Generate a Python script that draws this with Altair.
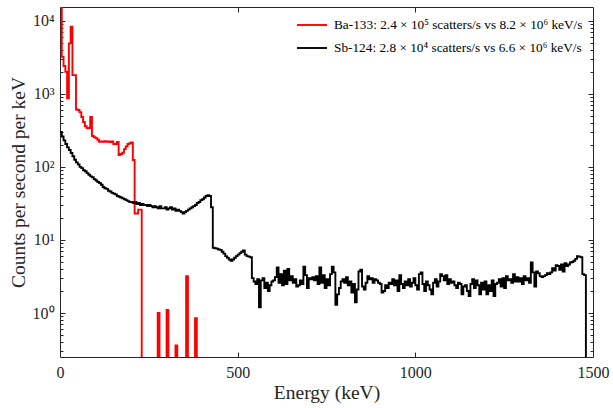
import altair as alt
import pandas as pd

BIN = 5  # keV per histogram bin
FLOOR = 0.01  # stands in for empty bins on the log axis (below the visible range)

ba_label = "Ba-133: 2.4 × 10⁵ scatters/s vs 8.2 × 10⁶ keV/s"
sb_label = "Sb-124: 2.8 × 10⁴ scatters/s vs 6.6 × 10⁶ keV/s"

# Ba-133 counts per second per keV, 5 keV bins starting at 0 keV
ba_rate = [
    20000, 3200, 2400, 2000, 870, 4900, 8300, 1800, 1800, 610,
    600, 560, 480, 410, 360, 340, 340, 480, 265, 255,
    247, 235, 220, 222, 220, 224, 220, 222, 218, 222,
    205, 205, 220, 145, 150, 156, 175, 190, 205, 210,
    215, 124, 23, 23, 26, 26, 0, 0, 0, 0,
    0, 0, 0, 0, 0, 1.0, 0, 0, 0, 0,
    1.1, 0, 0, 0, 0, 0.36, 0, 0, 0, 0,
    0, 3.2, 0, 0, 0, 0, 0.85,
]

# Sb-124 counts per second per keV, 5 keV bins starting at 0 keV
sb_rate = [
    300, 260, 230, 205, 185, 170, 155, 140, 125, 115,
    108, 100, 96, 90, 87, 82, 78, 74, 72, 68,
    65, 62, 60, 57, 53, 51, 50, 47, 46, 44,
    43, 42, 40, 39, 38, 37, 36, 35, 34, 33,
    33, 32, 33, 31, 32, 30, 31, 30, 30, 29,
    30, 29, 28, 29, 28, 27, 29, 27, 27, 28,
    26, 27, 28, 26, 27, 25, 26, 25, 24, 23,
    24, 25, 26, 27, 28, 29, 30, 32, 33, 35,
    36, 38, 40, 41, 40, 28,
    7.8, 7.7, 7.6, 7.4, 7.3, 6.9, 6.5, 6.0, 5.7, 5.4,
    5.2, 5.4, 5.7, 6.0, 6.3, 6.6, 6.9, 7.2, 6.3, 6.0, 5.9, 5.8,
    3.0, 2.7, 2.5, 2.9, 1.2, 2.8, 3.0, 2.2, 2.6, 2.0,
    2.4, 2.7, 2.8, 3.1, 4.2, 2.6, 3.4, 2.4, 3.8, 2.5,
    4.0, 2.8, 3.2, 2.6, 2.9, 2.3, 2.4, 2.8, 2.5, 4.3,
    3.3, 2.2, 3.0, 2.9, 3.1, 2.8, 3.2, 2.5, 4.2, 2.6,
    3.3, 2.2, 2.9, 2.4, 3.4, 4.3, 3.6, 1.3, 1.8, 2.2,
    2.7, 2.9, 2.6, 3.1, 2.4, 2.7, 1.9, 2.5, 1.4, 2.1,
    3.7, 3.9, 2.3, 2.1, 2.6, 3.2, 2.9, 3.0, 2.6, 2.9,
    2.8, 2.6, 2.5, 1.9, 2.0, 2.4, 2.2, 2.6, 2.5, 2.9,
    2.4, 2.8, 2.0, 3.3, 2.5, 2.2, 2.7, 2.4, 2.9, 2.3,
    2.6, 3.0, 2.4, 2.1, 3.4, 3.6, 2.5, 2.0, 2.7, 2.4,
    2.1, 1.8, 2.6, 2.9, 2.3, 2.7, 3.4, 3.2, 2.8, 3.3,
    2.5, 2.9, 2.6, 2.7, 2.4, 2.2, 2.6, 2.5, 1.8, 2.3,
    2.4, 2.0, 1.7, 2.5, 2.9, 2.2, 2.8, 2.4, 1.8, 2.6,
    2.1, 2.7, 1.8, 2.4, 2.0, 2.8, 1.7, 2.5, 2.6, 2.9,
    2.3, 3.0, 2.2, 3.2, 2.8, 2.9, 2.6, 3.4, 2.7, 3.1,
    2.7, 3.0, 2.5, 3.2, 2.8, 3.0, 2.6, 4.9, 3.6, 2.3,
    3.7, 3.5, 3.2, 3.1, 3.2, 3.3, 3.5, 3.4, 3.6, 4.1,
    3.8, 4.5, 4.4, 3.9, 4.6, 3.7, 4.8, 4.4, 4.6, 4.9,
    5.0, 5.2, 5.5, 6.0, 5.9, 5.8, 3.4, 3.3,
]

x_ticks = [0, 500, 1000, 1500]
x_inner_ticks = [500, 1000]
y_major = [1, 10, 100, 1000, 10000]
y_minor = [m * 10 ** e for e in range(-1, 5) for m in range(2, 10)
           if 0.25 <= m * 10 ** e <= 15400]


def step_rows(rates, label):
    rows = [{"energy": i * BIN, "rate": r if r > 0 else FLOOR, "source": label, "i": i}
            for i, r in enumerate(rates)]
    rows.append({"energy": len(rates) * BIN, "rate": FLOOR, "source": label, "i": len(rates)})
    return rows


df_ba = pd.DataFrame(step_rows(ba_rate, ba_label))
df_sb = pd.DataFrame(step_rows(sb_rate, sb_label))

FONT = "Liberation Serif"
AX = "#262626"
LW = 1.9

xs = alt.Scale(domain=[0, 1500], nice=False, zero=False)
ys = alt.Scale(type="log", domain=[0.25, 15400], nice=False)

color = alt.Color(
    "source:N",
    scale=alt.Scale(domain=[ba_label, sb_label], range=["#ff0000", "#000000"]),
    legend=alt.Legend(
        title=None, orient="none", legendX=236, legendY=2,
        symbolType="stroke", symbolSize=900, symbolStrokeWidth=LW,
        labelFont=FONT, labelFontSize=13.3, labelColor="#000000",
        labelLimit=500, labelOffset=6, rowPadding=-8, padding=0,
    ),
)

label_expr = ("datum.value < 5 ? '10⁰' : datum.value < 50 ? '10¹' : "
              "datum.value < 500 ? '10²' : datum.value < 5000 ? '10³' : '10⁴'")

red = alt.Chart(df_ba).mark_line(interpolate="step-after", clip=True, strokeWidth=LW).encode(
    x=alt.X("energy:Q", scale=xs, axis=alt.Axis(
        orient="bottom", values=x_ticks, format="d", title="Energy (keV)", ticks=False,
        domain=False, grid=False, labelFlush=False, labelPadding=7, titlePadding=3)),
    y=alt.Y("rate:Q", scale=ys, axis=alt.Axis(
        orient="left", values=y_major, labelExpr=label_expr, title="Counts per second per keV",
        ticks=False, domain=False, grid=False, labelPadding=6, titlePadding=4)),
    color=color,
    order="i:Q",
)

black = alt.Chart(df_sb).mark_line(interpolate="step-after", clip=True, strokeWidth=LW).encode(
    x=alt.X("energy:Q", scale=xs, axis=None),
    y=alt.Y("rate:Q", scale=ys, axis=None),
    color=color,
    order="i:Q",
)


def tick_layer(x_axis, y_axis):
    return alt.Chart(df_sb).mark_point(opacity=0, clip=True).encode(
        x=alt.X("energy:Q", scale=xs, axis=x_axis),
        y=alt.Y("rate:Q", scale=ys, axis=y_axis),
    )


def inner_axis(orient, values, size):
    return alt.Axis(orient=orient, values=values, offset=-size, tickSize=size, tickWidth=1,
                    labels=False, domain=False, grid=False, title=None, tickColor=AX)


t1 = tick_layer(inner_axis("bottom", x_inner_ticks, 5), inner_axis("left", y_major, 5))
t2 = tick_layer(inner_axis("top", x_inner_ticks, 5), inner_axis("left", y_minor, 3))
t3 = tick_layer(None, inner_axis("right", y_major, 5))
t4 = tick_layer(None, inner_axis("right", y_minor, 3))

chart = alt.layer(red, black, t1, t2, t3, t4).resolve_axis(
    x="independent", y="independent"
).properties(
    width=533, height=350,
    autosize=alt.AutoSizeParams(type="none"),
    padding={"left": 60, "top": 7, "right": 20, "bottom": 51},
    background="white",
).configure_view(
    stroke=AX, strokeWidth=1
).configure_axis(
    labelFont=FONT, titleFont=FONT, labelFontSize=16, titleFontSize=19.5,
    titleFontWeight="normal", labelColor=AX, titleColor=AX,
)

chart.save("out.html", embed_options={"renderer": "svg", "actions": False})
